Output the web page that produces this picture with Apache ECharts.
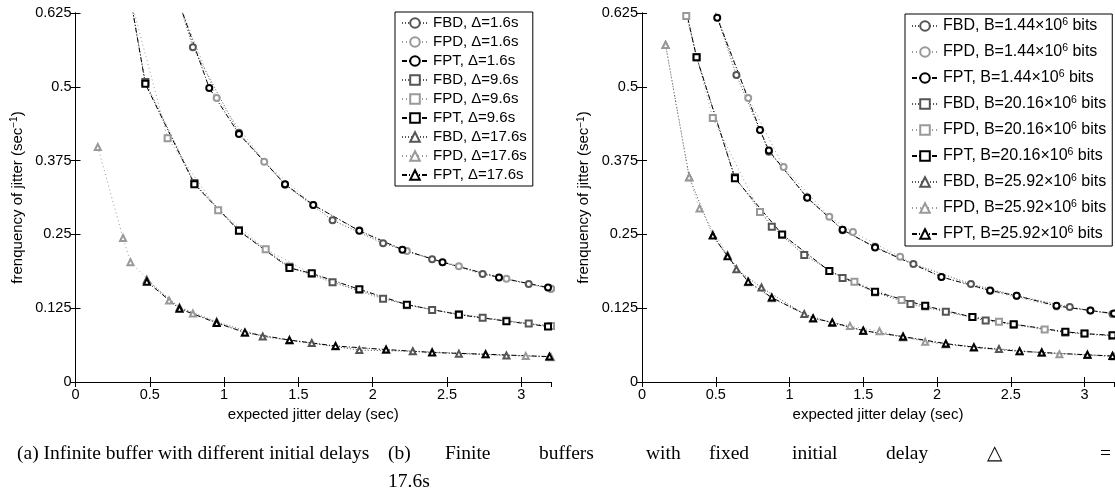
<!DOCTYPE html>
<html><head><meta charset="utf-8">
<script src="https://cdn.jsdelivr.net/npm/echarts@6/dist/echarts.min.js"></script>
<style>html,body{margin:0;padding:0;background:#fff}#c{width:1115px;height:499px}</style>
</head><body><div id="c"></div>
<script>
// ---- tick labels ----
const xTicks = [0, 0.5, 1, 1.5, 2, 2.5, 3];
const yTicks = [0, 0.125, 0.25, 0.375, 0.5, 0.625];

// ---- (a) infinite buffer, different initial delays ----
const A_FBD_16 = [[0.70,0.64],[0.79,0.567],[1.10,0.422],[1.41,0.334],[1.73,0.274],[2.07,0.235],[2.40,0.208],[2.74,0.183],[3.05,0.166],[3.2,0.158]];
const A_FPD_16 = [[0.70,0.64],[0.95,0.481],[1.27,0.373],[1.60,0.300],[1.91,0.257],[2.23,0.222],[2.58,0.196],[2.90,0.175],[3.2,0.158]];
const A_FPT_16 = [[0.70,0.64],[0.90,0.498],[1.10,0.420],[1.41,0.335],[1.60,0.300],[1.91,0.256],[2.20,0.224],[2.47,0.203],[2.85,0.177],[3.18,0.160]];
const A_FBD_96 = [[0.37,0.65],[0.47,0.508],[0.80,0.337],[1.10,0.257],[1.44,0.195],[1.73,0.169],[2.07,0.141],[2.40,0.122],[2.74,0.109],[3.05,0.099],[3.2,0.095]];
const A_FPD_96 = [[0.37,0.65],[0.62,0.413],[0.96,0.291],[1.28,0.225],[1.59,0.183],[1.91,0.156],[2.23,0.130],[2.58,0.115],[2.90,0.104],[3.2,0.095]];
const A_FPT_96 = [[0.37,0.65],[0.47,0.505],[0.80,0.335],[1.10,0.256],[1.44,0.193],[1.59,0.184],[1.91,0.157],[2.23,0.131],[2.58,0.114],[2.90,0.103],[3.18,0.094]];
const A_FBD_176 = [[0.48,0.173],[0.70,0.126],[0.95,0.102],[1.26,0.077],[1.59,0.066],[1.91,0.054],[2.27,0.052],[2.58,0.048],[2.90,0.045],[3.19,0.043]];
const A_FPD_176 = [[0.15,0.398],[0.32,0.244],[0.37,0.203],[0.63,0.138],[0.79,0.116],[1.14,0.083],[1.44,0.070],[1.75,0.060],[2.09,0.054],[2.40,0.051],[2.76,0.047],[3.03,0.044],[3.2,0.042]];
const A_FPT_176 = [[0.48,0.170],[0.70,0.124],[0.95,0.100],[1.14,0.084],[1.44,0.071],[1.75,0.061],[2.09,0.055],[2.40,0.050],[2.76,0.047],[3.19,0.043]];

// ---- (b) finite buffers, fixed initial delay ----
const B_FBD_144 = [[0.48,0.64],[0.64,0.52],[0.86,0.390],[1.12,0.313],[1.36,0.257],[1.58,0.229],[1.84,0.200],[2.23,0.166],[2.54,0.146],[2.90,0.127],[3.19,0.115]];
const B_FPD_144 = [[0.48,0.64],[0.72,0.481],[0.96,0.364],[1.27,0.280],[1.43,0.254],[1.75,0.212],[2.03,0.178],[2.36,0.154],[2.81,0.128],[3.04,0.121],[3.2,0.115]];
const B_FPT_144 = [[0.48,0.64],[0.51,0.617],[0.80,0.427],[0.86,0.392],[1.12,0.312],[1.36,0.258],[1.58,0.228],[2.03,0.178],[2.36,0.155],[2.54,0.146],[2.81,0.129],[3.04,0.121],[3.2,0.116]];
const B_FBD_2016 = [[0.28,0.65],[0.37,0.55],[0.63,0.347],[0.88,0.263],[1.10,0.215],[1.36,0.176],[1.58,0.152],[1.82,0.132],[2.06,0.119],[2.33,0.104],[2.52,0.097],[2.87,0.084],[3.19,0.078]];
const B_FPD_2016 = [[0.28,0.65],[0.30,0.62],[0.48,0.447],[0.80,0.288],[0.95,0.249],[1.27,0.188],[1.44,0.170],[1.76,0.139],[1.92,0.128],[2.24,0.110],[2.42,0.102],[2.73,0.089],[3.0,0.082],[3.2,0.078]];
const B_FPT_2016 = [[0.28,0.65],[0.37,0.55],[0.63,0.345],[0.95,0.250],[1.27,0.188],[1.58,0.153],[1.92,0.129],[2.24,0.110],[2.52,0.098],[2.87,0.085],[3.0,0.082],[3.19,0.079]];
const B_FBD_2592 = [[0.16,0.571],[0.32,0.347],[0.48,0.249],[0.64,0.191],[0.81,0.160],[1.10,0.115],[1.29,0.100],[1.50,0.087],[1.77,0.076],[2.06,0.064],[2.42,0.056],[2.71,0.050],[3.02,0.046],[3.19,0.044]];
const B_FPD_2592 = [[0.16,0.571],[0.32,0.347],[0.39,0.294],[0.58,0.215],[0.72,0.169],[0.88,0.142],[1.16,0.107],[1.41,0.095],[1.61,0.086],[1.92,0.068],[2.25,0.058],[2.56,0.052],[2.83,0.047],[3.2,0.043]];
const B_FPT_2592 = [[0.48,0.248],[0.58,0.213],[0.72,0.170],[0.88,0.143],[1.16,0.108],[1.29,0.101],[1.50,0.087],[1.77,0.077],[2.06,0.065],[2.25,0.059],[2.56,0.052],[2.71,0.050],[3.02,0.046],[3.19,0.044]];

const namesA = ['FBD, Δ=1.6s','FPD, Δ=1.6s','FPT, Δ=1.6s','FBD, Δ=9.6s','FPD, Δ=9.6s','FPT, Δ=9.6s','FBD, Δ=17.6s','FPD, Δ=17.6s','FPT, Δ=17.6s'];
const namesB = ['FBD, B=1.44×10^6 bits','FPD, B=1.44×10^6 bits','FPT, B=1.44×10^6 bits','FBD, B=20.16×10^6 bits','FPD, B=20.16×10^6 bits','FPT, B=20.16×10^6 bits','FBD, B=25.92×10^6 bits','FPD, B=25.92×10^6 bits','FPT, B=25.92×10^6 bits'];
const dataA = [A_FBD_16,A_FPD_16,A_FPT_16,A_FBD_96,A_FPD_96,A_FPT_96,A_FBD_176,A_FPD_176,A_FPT_176];
const dataB = [B_FBD_144,B_FPD_144,B_FPT_144,B_FBD_2016,B_FPD_2016,B_FPT_2016,B_FBD_2592,B_FPD_2592,B_FPT_2592];

const symbols = ['emptyCircle','emptyRect','emptyTriangle'];
const kinds = [
  {color:'#555', type:[1,2]},
  {color:'#999', type:[1,3]},
  {color:'#000', type:[5,2,1,2]}
];
const FONT = 'Liberation Sans, Arial, sans-serif';

function mkSeries(names, data, axisIdx){
  return names.map((n,i)=>{
    const k = kinds[i%3];
    return {
      name:n, type:'line', xAxisIndex:axisIdx, yAxisIndex:axisIdx, data:data[i],
      symbol:symbols[Math.floor(i/3)], symbolSize:6, showAllSymbol:true,
      lineStyle:{color:k.color, width:1, type:k.type},
      itemStyle:{color:k.color, borderColor:k.color, borderWidth:1},
      emphasis:{disabled:true}, animation:false, clip:true
    };
  });
}

function xAxes(grid){
  const base = {type:'value', gridIndex:grid, min:0, max:3.2, interval:0.5,
    axisLine:{lineStyle:{color:'#000', width:1}},
    axisTick:{inside:true, length:5, lineStyle:{color:'#000'}},
    splitLine:{show:false}};
  return [
    Object.assign({}, base, {position:'bottom',
      axisLabel:{color:'#000', fontSize:14.5, fontFamily:FONT, margin:5, showMaxLabel:false,
        formatter:v=>xTicks.indexOf(v)>=0?String(v):''},
      name:'expected jitter delay (sec)', nameLocation:'middle', nameGap:21,
      nameTextStyle:{color:'#000', fontSize:15, fontFamily:FONT}}),
    Object.assign({}, base, {position:'top', axisLabel:{show:false}})
  ];
}
function yAxes(grid){
  const base = {type:'value', gridIndex:grid, min:0, max:0.625, interval:0.125,
    axisLine:{lineStyle:{color:'#000', width:1}},
    axisTick:{inside:true, length:5, lineStyle:{color:'#000'}},
    splitLine:{show:false}};
  return [
    Object.assign({}, base, {position:'left',
      axisLabel:{color:'#000', fontSize:14.5, fontFamily:FONT, margin:4,
        formatter:v=>yTicks.indexOf(v)>=0?String(v):''},
      name:'frenquency of jitter (sec{sup|−1})', nameLocation:'middle', nameGap:50, nameRotate:90,
      nameTextStyle:{color:'#000', fontSize:15, fontFamily:FONT,
        rich:{sup:{fontSize:10, verticalAlign:'top', fontFamily:FONT, color:'#000', padding:[0,0,6,0]}}}}),
    Object.assign({}, base, {position:'right', axisLabel:{show:false}})
  ];
}

const xs = xAxes(0).concat(xAxes(1));
const ys = yAxes(0).concat(yAxes(1));
// series axis indices: grid0 uses xAxis0/yAxis0, grid1 uses xAxis2/yAxis2
const series = mkSeries(namesA, dataA, 0).concat(mkSeries(namesB, dataB, 2));

const legendBase = {orient:'vertical', borderColor:'#000', borderWidth:1, backgroundColor:'#fff',
  itemWidth:26, itemHeight:12, selectedMode:false, z:10, itemStyle:{borderWidth:1},
  inactiveColor:'#000'};

const capFont = 'Liberation Serif, Times New Roman, serif';
const capB = [['(b)',388],['Finite',445],['buffers',539],['with',646],['fixed',709],['initial',792],['delay',886],['△',987],['=',1100]];

const option = {
  backgroundColor:'#fff',
  animation:false,
  grid:[
    {left:75.5, top:13, width:475.5, height:369},
    {left:642, top:13, width:472, height:369}
  ],
  xAxis: xs,
  yAxis: ys,
  legend:[
    Object.assign({}, legendBase, {data:namesA, left:395, top:12, padding:[3,6,3,6], itemGap:3,
      textStyle:{color:'#000', fontSize:15, fontFamily:FONT, lineHeight:16}}),
    Object.assign({}, legendBase, {data:namesB, left:905, top:14, padding:[3,6,3,6], itemGap:8,
      formatter:n=>n.replace('^6','{sup|6}'),
      textStyle:{color:'#000', fontSize:16, fontFamily:FONT, lineHeight:18,
        rich:{sup:{fontSize:10.5, verticalAlign:'top', fontFamily:FONT, color:'#000', lineHeight:18}}}})
  ],
  graphic:[
    {type:'text', left:17, top:444, style:{text:'(a) Infinite buffer with different initial delays', font:'19.5px '+capFont, fill:'#000'}}
  ].concat(capB.map(w=>({type:'text', left:w[1], top:444, style:{text:w[0], font:'19.5px '+capFont, fill:'#000'}})))
   .concat([{type:'text', left:388, top:472, style:{text:'17.6s', font:'19.5px '+capFont, fill:'#000'}}]),
  series: series
};

const chart = echarts.init(document.getElementById('c'), null, {renderer:'canvas'});
chart.setOption(option);
</script></body></html>
